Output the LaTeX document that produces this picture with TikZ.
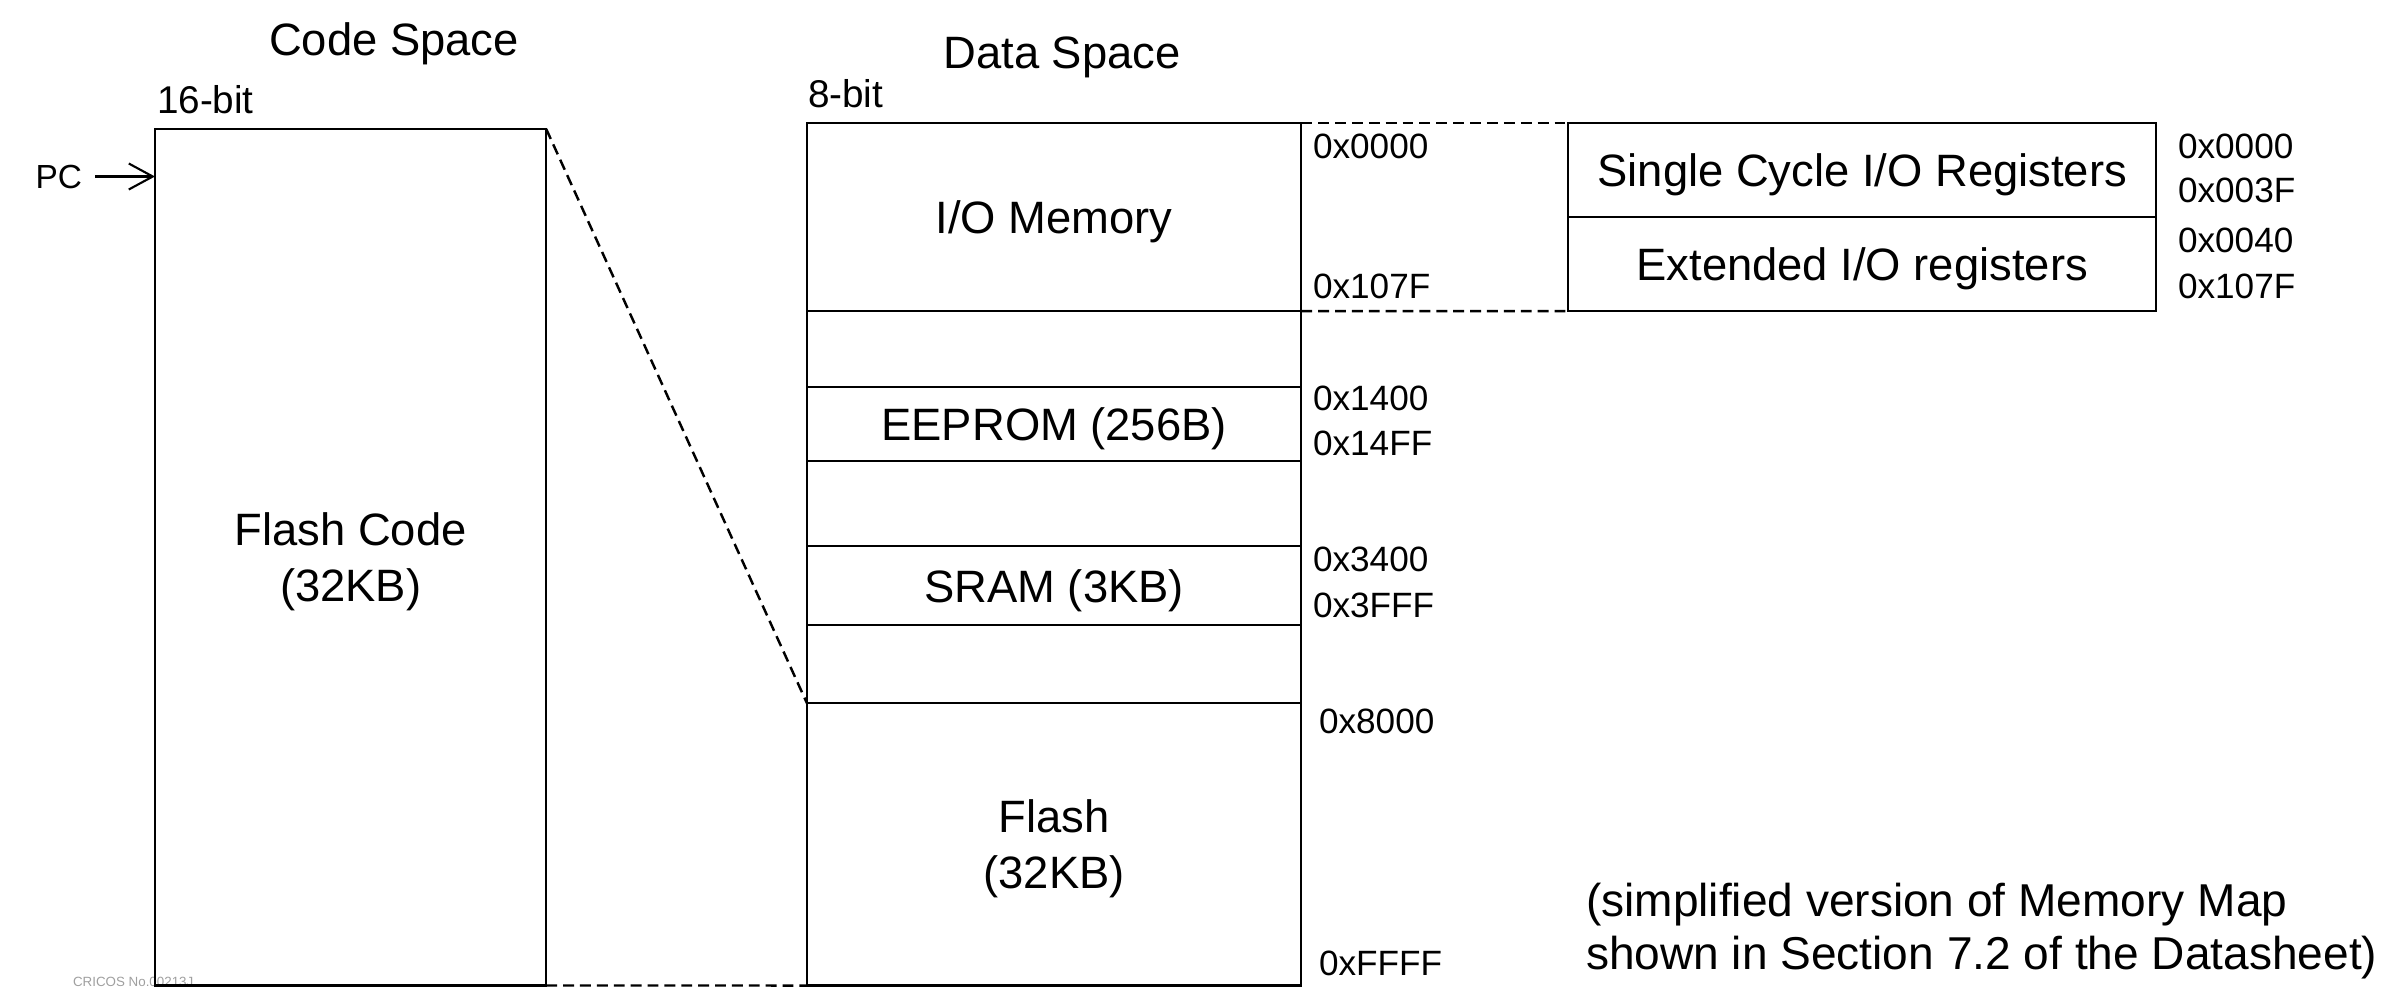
\documentclass[tikz,border=0pt]{standalone}
\usepackage{fontspec}
\setmainfont{Liberation Sans}
\usetikzlibrary{positioning, arrows.meta}

\begin{document}
\begin{tikzpicture}[
  x=0.01cm, y=-0.01cm,
  every node/.style={inner sep=0pt, outer sep=0pt},
  big/.style={font=\fontsize{12.9}{15.9}\selectfont},
  addr/.style={font=\fontsize{10}{12}\selectfont, anchor=base west},
  bits/.style={font=\fontsize{11}{13}\selectfont, anchor=base west},
  region/.style={draw, line width=0.6pt, align=center, text depth=0pt, big},
  dcell/.style={region, minimum width=4.94cm},
  rcell/.style={region, minimum width=5.88cm, minimum height=0.94cm},
  guide/.style={line width=0.7pt, dash pattern=on 3.1pt off 1.7pt},
  ptr/.style={-{Straight Barb[length=2.4mm, width=2.6mm]}, line width=0.6pt},
]
\useasboundingbox (0,0) rectangle (2386,1000);

% Code space (left)
\node[big, anchor=base] (codetitle) at (394,55) {Code Space};
\node[bits] (codebits) at (157,113) {16-bit};
\node[anchor=base west, font=\fontsize{3.8}{4.5}\selectfont, text=gray!75] (cricos) at (73,986) {CRICOS No.00213J};
\node[region, minimum width=3.91cm, minimum height=8.56cm, anchor=north west] (code) at (155,129) {Flash Code\\(32KB)};
\node[anchor=base east, font=\fontsize{9.5}{11}\selectfont, inner xsep=3.7pt] (pc) at (95,188) {PC};
\draw[ptr] (pc.east) -- (pc.east -| code.west);

% Data space (middle)
\node[big, anchor=base] (datatitle) at (1062,68) {Data Space};
\node[bits] (databits) at (808,107) {8-bit};
\node[dcell, minimum height=1.88cm, anchor=north west] (iomem) at (807,123) {I/O Memory};
\node[dcell, minimum height=0.76cm, below=0pt of iomem] (gapa) {};
\node[dcell, minimum height=0.74cm, below=0pt of gapa] (eeprom) {EEPROM (256B)};
\node[dcell, minimum height=0.85cm, below=0pt of eeprom] (gapb) {};
\node[dcell, minimum height=0.79cm, below=0pt of gapb] (sram) {SRAM (3KB)};
\node[dcell, minimum height=0.78cm, below=0pt of sram] (gapc) {};
\node[dcell, minimum height=2.82cm, below=0pt of gapc] (flash) {Flash\\(32KB)};

\node[addr] (d0000) at (1313,158) {0x0000};
\node[addr] (d107F) at (1313,298) {0x107F};
\node[addr] (d1400) at (1313,410) {0x1400};
\node[addr] (d14FF) at (1313,455) {0x14FF};
\node[addr] (d3400) at (1313,571) {0x3400};
\node[addr] (d3FFF) at (1313,617) {0x3FFF};
\node[addr] (d8000) at (1319,733) {0x8000};
\node[addr] (dFFFF) at (1319,975) {0xFFFF};

% I/O detail (right)
\node[rcell, anchor=north west] (single) at (1568,123) {Single Cycle I/O Registers};
\node[rcell, below=0pt of single] (ext) {Extended I/O registers};
\node[addr] (r0000) at (2178,158) {0x0000};
\node[addr] (r003F) at (2178,202) {0x003F};
\node[addr] (r0040) at (2178,252) {0x0040};
\node[addr] (r107F) at (2178,298) {0x107F};

% mapping lines
\draw[guide] (code.north east) -- (flash.north west);
\draw[guide] (code.south east) -- (flash.south west);
\draw[guide] (iomem.north east) -- (single.north west);
\draw[guide] (iomem.south east) -- (ext.south west);

\node[anchor=base west, align=left, font=\fontsize{13.1}{15}\selectfont] (remark) at (1586,969)
  {(simplified version of Memory Map\\shown in Section 7.2 of the Datasheet)};
\end{tikzpicture}
\end{document}
